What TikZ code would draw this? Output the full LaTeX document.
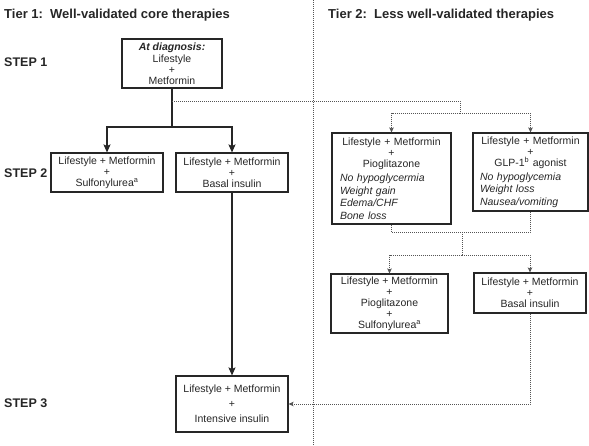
\documentclass[tikz,border=0pt]{standalone}
\usepackage{fontspec}
\setmainfont{Liberation Sans}
\usetikzlibrary{arrows.meta}
\definecolor{ink}{HTML}{262626}
\definecolor{dotc}{HTML}{555555}
\tikzset{
  box/.style={draw=ink, line width=1.1pt, inner sep=0pt, align=center, text=ink,
    font=\fontsize{10.5}{11}\selectfont},
  solidarr/.style={draw=ink, line width=1.2pt},
  sarrow/.style={-{Stealth[length=8pt,width=7pt,inset=1.5pt]}},
  dotline/.style={draw=dotc, line width=0.8pt, dash pattern=on 0.8pt off 1.2pt},
  darrow/.style={-{Stealth[length=5pt,width=4.5pt,inset=1pt]}},
  title/.style={anchor=west, text=ink, font=\fontsize{13}{13}\selectfont\bfseries, inner sep=0pt},
  steplabel/.style={anchor=west, text=ink, font=\fontsize{12.5}{12.5}\selectfont\bfseries, inner sep=0pt},
}
\begin{document}
\begin{tikzpicture}[x=1pt,y=-1pt]
\useasboundingbox (0,0) rectangle (589,445);

% titles
\node[title] (t1) at (4,15) {Tier 1:\ \ Well-validated core therapies};
\node[title] (t2) at (328,15) {Tier 2:\ \ Less well-validated therapies};

% step labels
\node[steplabel] (st1) at (4,62) {STEP 1};
\node[steplabel] (st2) at (4,173) {STEP 2};
\node[steplabel] (st3) at (4,403) {STEP 3};

% tier divider
\coordinate (dt) at (313,0);
\coordinate (db) at (313,445);
\draw[dotline] (dt) -- (db);

% boxes
\node[box, minimum width=100pt, minimum height=49pt] (s1) at (172,63.5)
  {\textbf{\textit{At diagnosis:}}\\[0.5pt] Lifestyle\\ +\\ Metformin};
\node[box, minimum width=112pt, minimum height=39pt] (s2a) at (107,172.5)
  {Lifestyle + Metformin\\ +\\ Sulfonylurea\textsuperscript{a}};
\node[box, minimum width=112pt, minimum height=39pt] (s2b) at (232,172.5)
  {Lifestyle + Metformin\\ +\\ Basal insulin};
\node[box, minimum width=112pt, minimum height=56pt] (s3) at (232,404)
  {Lifestyle + Metformin\\[4pt] +\\[4pt] Intensive insulin};

\node[box, align=left, text width=103pt, inner xsep=8pt, minimum height=91pt] (pio) at (391.5,178.5)
  {\makebox[\linewidth]{Lifestyle + Metformin}\\
   \makebox[\linewidth]{+}\\
   \makebox[\linewidth]{Pioglitazone}\\[3pt]
   \textit{No hypoglycermia}\\[1.5pt]
   \textit{Weight gain}\\[1.5pt]
   \textit{Edema/CHF}\\[1.5pt]
   \textit{Bone loss}};
\node[box, align=left, text width=101pt, inner xsep=7pt, minimum height=78pt] (glp) at (530.5,172)
  {\makebox[\linewidth]{Lifestyle + Metformin}\\
   \makebox[\linewidth]{+}\\
   \makebox[\linewidth]{GLP-1\textsuperscript{b} agonist}\\[3pt]
   \textit{No hypoglycemia}\\[1.5pt]
   \textit{Weight loss}\\[1.5pt]
   \textit{Nausea/vomiting}};
\node[box, minimum width=117pt, minimum height=59pt] (psu) at (389.5,303.5)
  {Lifestyle + Metformin\\ +\\ Pioglitazone\\ +\\ Sulfonylurea\textsuperscript{a}};
\node[box, minimum width=112pt, minimum height=40pt] (bas) at (530,293)
  {Lifestyle + Metformin\\ +\\ Basal insulin};

% solid connectors
\coordinate (f) at (172,127);
\draw[solidarr] (s1.south) -- (f);
\draw[solidarr, sarrow] (f) -| (s2a.north);
\draw[solidarr, sarrow] (f) -| (s2b.north);
\draw[solidarr, sarrow] (s2b.south) -- (s3.north);

% dotted connectors
\coordinate (d1) at (172,101);
\coordinate (k1) at (460,101);
\coordinate (j1) at (460,113);
\draw[dotline] (d1) -- (k1) -- (j1);
\draw[dotline, darrow] (j1) -| (pio.north);
\draw[dotline, darrow] (j1) -| (glp.north);

\coordinate (j2) at (462,232);
\coordinate (j3) at (462,255);
\draw[dotline] (pio.south) |- (j2);
\draw[dotline] (glp.south) |- (j2);
\draw[dotline] (j2) -- (j3);
\draw[dotline, darrow] (j3) -| (psu.north);
\draw[dotline, darrow] (j3) -| (bas.north);

\draw[dotline, darrow] (bas.south) |- (s3.east);
\end{tikzpicture}
\end{document}
